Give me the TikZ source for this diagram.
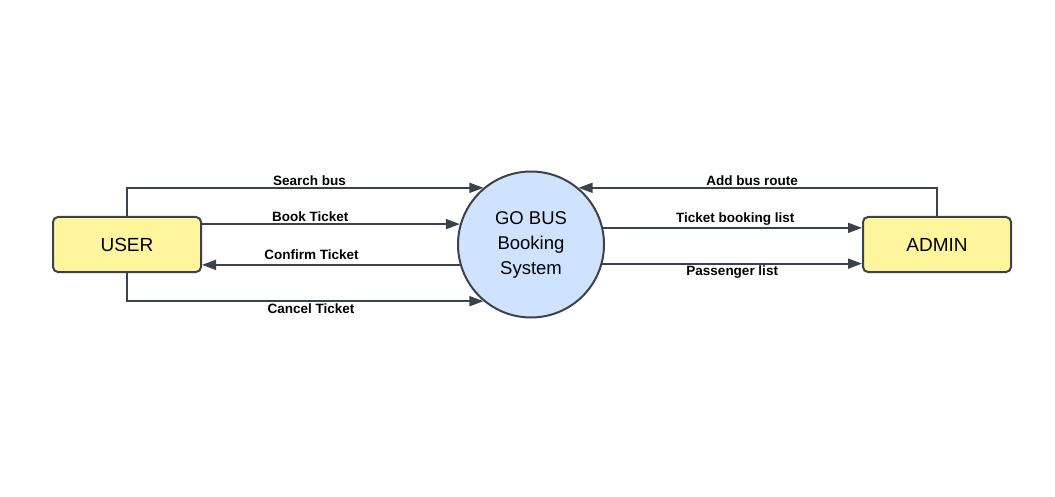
\documentclass[tikz,border=0pt]{standalone}
\usepackage{fontspec}
\setmainfont{Liberation Sans}
\usetikzlibrary{arrows.meta}
\definecolor{ln}{HTML}{3C4249}
\definecolor{yel}{HTML}{FFF59D}
\definecolor{blu}{HTML}{CFE3FF}
\begin{document}
\begin{tikzpicture}[x=1pt,y=-1pt,
  ent/.style={draw=ln,line width=2pt,fill=yel,rounded corners=5pt,minimum width=148pt,minimum height=55pt,inner sep=0pt,font=\fontsize{19}{22}\selectfont},
  proc/.style={circle,draw=ln,line width=2pt,fill=blu,minimum size=146pt,inner sep=0pt,align=center,font=\fontsize{18.5}{25}\selectfont},
  flow/.style={draw=ln,line width=1.7pt,-{Triangle[length=14pt,width=10pt]}},
  lab/.style={font=\bfseries\fontsize{13.5}{15}\selectfont,text=black,inner sep=1.5pt}]
\useasboundingbox (0,0) rectangle (1055,497);
\node[ent] (user) at (127,244.5) {USER};
\node[ent] (admin) at (937,244.5) {ADMIN};
\node[proc] (sys) at (531,244.5) {GO BUS\\Booking\\System};
\draw[flow] (user.north) |- node[lab,above,pos=0.756] (l1) {Search bus} (sys.130);
\draw[flow] (user.east |- sys.164) -- node[lab,above,pos=0.42] (l2) {Book Ticket} (sys.164);
\draw[flow] (sys.196) -- node[lab,above,pos=0.575,yshift=2.5pt] (l3) {Confirm Ticket} (user.east |- sys.196);
\draw[flow] (user.south) |- node[lab,below,pos=0.758] (l4) {Cancel Ticket} (sys.230);
\draw[flow] (admin.north) |- node[lab,above,pos=0.758] (l5) {Add bus route} (sys.50);
\draw[flow] (sys.13) -- node[lab,above,pos=0.51] (l6) {Ticket booking list} (admin.west |- sys.13);
\draw[flow] (sys.-15.5) -- node[lab,below,pos=0.5] (l7) {Passenger list} (admin.west |- sys.-15.5);
\end{tikzpicture}
\end{document}
